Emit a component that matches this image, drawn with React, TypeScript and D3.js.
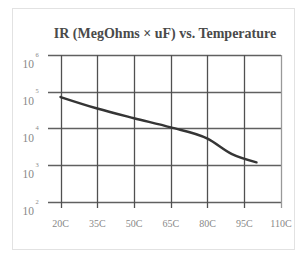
import React, { useEffect, useRef } from "react";
import * as d3 from "d3";

// temperatures (C) and insulation resistance (MegOhms x uF)
const temps = [20, 35, 50, 65, 80, 90, 100];
const irValues = [72000, 35000, 19000, 10700, 5300, 2000, 1200];

const xTicks = [20, 35, 50, 65, 80, 95, 110];
const xTickLabels = ["20C", "35C", "50C", "65C", "80C", "95C", "110C"];
const yTicks = [1e2, 1e3, 1e4, 1e5, 1e6];
const yExponents = ["2", "3", "4", "5", "6"];

const App = () => {
  const svgRef = useRef<SVGSVGElement>(null);

  useEffect(() => {
    const w = 299;
    const h = 254;
    const svg = d3.select(svgRef.current).attr("width", w).attr("height", h);
    svg.selectAll("*").remove();

    const font = '"Liberation Serif", "DejaVu Serif", serif';

    // light frame around the chart
    svg
      .append("rect")
      .attr("x", 12.5)
      .attr("y", 8.5)
      .attr("width", 282)
      .attr("height", 241)
      .attr("fill", "white")
      .attr("stroke", "#e2e2e2");

    svg
      .append("text")
      .attr("x", 165)
      .attr("y", 38)
      .attr("text-anchor", "middle")
      .style("font-family", font)
      .style("font-weight", "bold")
      .style("font-size", "14px")
      .attr("fill", "#4a4a4a")
      .text("IR (MegOhms \u00d7 uF) vs. Temperature");

    const xScale = d3.scaleLinear().domain([20, 110]).range([60.5, 281]);
    const yScale = d3.scaleLog().domain([1e2, 1e6]).range([202, 55]);

    // horizontal grid (sticks out left as ticks)
    svg
      .selectAll(".hgrid")
      .data(yTicks)
      .join("line")
      .attr("class", "hgrid")
      .attr("x1", 48)
      .attr("x2", xScale(110))
      .attr("y1", (d) => Math.round(yScale(d)) + 0.5)
      .attr("y2", (d) => Math.round(yScale(d)) + 0.5)
      .attr("stroke", "#606060")
      .attr("stroke-width", 1.3);

    // vertical grid (sticks out below as ticks)
    svg
      .selectAll(".vgrid")
      .data(xTicks)
      .join("line")
      .attr("class", "vgrid")
      .attr("x1", (d) => Math.round(xScale(d)) + 0.5)
      .attr("x2", (d) => Math.round(xScale(d)) + 0.5)
      .attr("y1", yScale(1e6))
      .attr("y2", 208)
      .attr("stroke", (d) => (d === 110 ? "#999" : "#505050"))
      .attr("stroke-width", 1.3);

    // y labels: 10 with superscript exponent
    const yl = svg
      .selectAll(".ylab")
      .data(yTicks)
      .join("g")
      .attr("class", "ylab")
      .style("font-family", font)
      .attr("fill", "#888");
    yl.append("text")
      .attr("x", 34)
      .attr("y", (d) => yScale(d) + 13)
      .attr("text-anchor", "end")
      .style("font-size", "11.5px")
      .text("10");
    yl.append("text")
      .attr("x", 35.5)
      .attr("y", (d) => yScale(d) + 1.5)
      .style("font-size", "6.5px")
      .text((d, i) => yExponents[i]);

    // x labels
    svg
      .selectAll(".xlab")
      .data(xTicks)
      .join("text")
      .attr("class", "xlab")
      .attr("x", (d) => xScale(d))
      .attr("y", 227)
      .attr("text-anchor", "middle")
      .style("font-family", font)
      .style("font-size", "10px")
      .attr("fill", "#888")
      .text((d, i) => xTickLabels[i]);

    const line = d3
      .line<number>()
      .x((d, i) => xScale(temps[i]))
      .y((d) => yScale(d))
      .curve(d3.curveMonotoneX);

    svg
      .append("path")
      .datum(irValues)
      .attr("d", line)
      .attr("fill", "none")
      .attr("stroke", "#353535")
      .attr("stroke-width", 2.4)
      .attr("stroke-linecap", "round");
  }, []);

  return (
    <div style={{ position: "absolute", left: 0, top: 0 }}>
      <svg ref={svgRef} style={{ display: "block" }}></svg>
    </div>
  );
};

export default App;
